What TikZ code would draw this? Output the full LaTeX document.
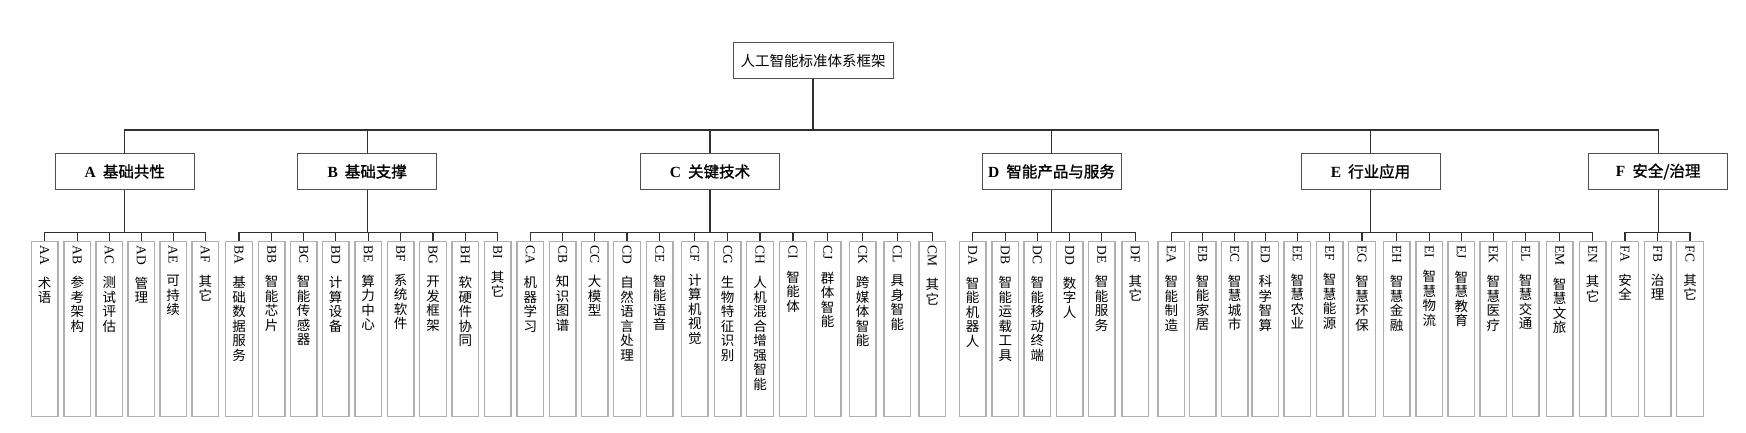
\documentclass[tikz,border=0pt]{standalone}
\usepackage{fontspec}
\usepackage{graphicx}
\usepackage{tikz}
\setmainfont{Noto Sans CJK SC}
\newfontfamily\headfont{Noto Sans CJK SC}[AutoFakeBold=1.2]
\newfontfamily\codefont{Liberation Serif}
\XeTeXlinebreaklocale "zh"
\XeTeXlinebreakskip=0pt plus 1pt
\definecolor{linegray}{HTML}{303030}
\definecolor{boxgray}{HTML}{505050}
\definecolor{leafgray}{HTML}{B0B0B0}

\begin{document}
\begin{tikzpicture}[x=1pt,y=-1pt,
    conn/.style={draw=linegray, line width=1.1pt},
    topbox/.style={draw=boxgray, line width=1pt, minimum width=160pt, minimum height=36pt, inner sep=0pt, font=\fontsize{14.5}{16}\selectfont},
    headbox/.style={draw=boxgray, line width=1pt, minimum width=139pt, minimum height=36pt, inner sep=0pt, font=\headfont\bfseries\fontsize{15.5}{17}\selectfont},
    leafbox/.style={draw=leafgray, line width=1.2pt, anchor=north, minimum width=26.5pt, minimum height=175pt, inner sep=0pt, font=\fontsize{13.5}{14.5}\selectfont,
        execute at begin node={\begin{minipage}[t][167pt][t]{20pt}\centering}, execute at end node={\end{minipage}}}]
    \useasboundingbox (0,0) rectangle (1746,432);
    % root and main groups
    \node[topbox] (root) at (813,60.7) {人工智能标准体系框架};
    \node[headbox] (A) at (124.8,171.5) {{\codefont A}\hspace{7pt}基础共性};
    \node[headbox] (B) at (367.2,171.5) {{\codefont B}\hspace{7pt}基础支撑};
    \node[headbox] (C) at (710,171.5) {{\codefont C}\hspace{7pt}关键技术};
    \node[headbox] (D) at (1051.5,171.5) {{\codefont D}\hspace{7pt}智能产品与服务};
    \node[headbox] (E) at (1370.5,171.5) {{\codefont E}\hspace{7pt}行业应用};
    \node[headbox] (F) at (1658.2,171.5) {{\codefont F}\hspace{7pt}安全/治理};
    % A
    \node[leafbox] (AA) at (44.7,241) {\rotatebox{-90}{\codefont AA}\\[11pt]术语};
    \node[leafbox] (AB) at (77.3,241) {\rotatebox{-90}{\codefont AB}\\[11pt]参考架构};
    \node[leafbox] (AC) at (109.3,241) {\rotatebox{-90}{\codefont AC}\\[11pt]测试评估};
    \node[leafbox] (AD) at (141.3,241) {\rotatebox{-90}{\codefont AD}\\[11pt]管理};
    \node[leafbox] (AE) at (173.2,241) {\rotatebox{-90}{\codefont AE}\\[11pt]可持续};
    \node[leafbox] (AF) at (205.3,241) {\rotatebox{-90}{\codefont AF}\\[11pt]其它};
    % B
    \node[leafbox] (BA) at (239,241) {\rotatebox{-90}{\codefont BA}\\[11pt]基础数据服务};
    \node[leafbox] (BB) at (271.7,241) {\rotatebox{-90}{\codefont BB}\\[11pt]智能芯片};
    \node[leafbox] (BC) at (303.7,241) {\rotatebox{-90}{\codefont BC}\\[11pt]智能传感器};
    \node[leafbox] (BD) at (335.7,241) {\rotatebox{-90}{\codefont BD}\\[11pt]计算设备};
    \node[leafbox] (BE) at (368.2,241) {\rotatebox{-90}{\codefont BE}\\[11pt]算力中心};
    \node[leafbox] (BF) at (400.7,241) {\rotatebox{-90}{\codefont BF}\\[11pt]系统软件};
    \node[leafbox] (BG) at (433,241) {\rotatebox{-90}{\codefont BG}\\[11pt]开发框架};
    \node[leafbox] (BH) at (465.3,241) {\rotatebox{-90}{\codefont BH}\\[11pt]软硬件协同};
    \node[leafbox] (BI) at (497.7,241) {\rotatebox{-90}{\codefont BI}\\[11pt]其它};
    % C
    \node[leafbox] (CA) at (530.3,241) {\rotatebox{-90}{\codefont CA}\\[11pt]机器学习};
    \node[leafbox] (CB) at (562.7,241) {\rotatebox{-90}{\codefont CB}\\[11pt]知识图谱};
    \node[leafbox] (CC) at (594.7,241) {\rotatebox{-90}{\codefont CC}\\[11pt]大模型};
    \node[leafbox] (CD) at (627,241) {\rotatebox{-90}{\codefont CD}\\[11pt]自然语言处理};
    \node[leafbox] (CE) at (659.7,241) {\rotatebox{-90}{\codefont CE}\\[11pt]智能语音};
    \node[leafbox] (CF) at (694.8,241) {\rotatebox{-90}{\codefont CF}\\[11pt]计算机视觉};
    \node[leafbox] (CG) at (727.7,241) {\rotatebox{-90}{\codefont CG}\\[11pt]生物特征识别};
    \node[leafbox] (CH) at (760,241) {\rotatebox{-90}{\codefont CH}\\[11pt]人机混合增强智能};
    \node[leafbox] (CI) at (793,241) {\rotatebox{-90}{\codefont CI}\\[11pt]智能体};
    \node[leafbox] (CJ) at (827.7,241) {\rotatebox{-90}{\codefont CJ}\\[11pt]群体智能};
    \node[leafbox] (CK) at (862.7,241) {\rotatebox{-90}{\codefont CK}\\[11pt]跨媒体智能};
    \node[leafbox] (CL) at (897.3,241) {\rotatebox{-90}{\codefont CL}\\[11pt]具身智能};
    \node[leafbox] (CM) at (932.3,241) {\rotatebox{-90}{\codefont CM}\\[11pt]其它};
    % D
    \node[leafbox] (DA) at (972.7,241) {\rotatebox{-90}{\codefont DA}\\[11pt]智能机器人};
    \node[leafbox] (DB) at (1005.3,241) {\rotatebox{-90}{\codefont DB}\\[11pt]智能运载工具};
    \node[leafbox] (DC) at (1037.3,241) {\rotatebox{-90}{\codefont DC}\\[11pt]智能移动终端};
    \node[leafbox] (DD) at (1069.7,241) {\rotatebox{-90}{\codefont DD}\\[11pt]数字人};
    \node[leafbox] (DE) at (1101.7,241) {\rotatebox{-90}{\codefont DE}\\[11pt]智能服务};
    \node[leafbox] (DF) at (1135.3,241) {\rotatebox{-90}{\codefont DF}\\[11pt]其它};
    % E
    \node[leafbox] (EA) at (1171.3,241) {\rotatebox{-90}{\codefont EA}\\[11pt]智能制造};
    \node[leafbox] (EB) at (1202.7,241) {\rotatebox{-90}{\codefont EB}\\[11pt]智能家居};
    \node[leafbox] (EC) at (1234.7,241) {\rotatebox{-90}{\codefont EC}\\[11pt]智慧城市};
    \node[leafbox] (ED) at (1265.3,241) {\rotatebox{-90}{\codefont ED}\\[11pt]科学智算};
    \node[leafbox] (EE) at (1297.3,241) {\rotatebox{-90}{\codefont EE}\\[11pt]智慧农业};
    \node[leafbox] (EF) at (1329.7,241) {\rotatebox{-90}{\codefont EF}\\[11pt]智慧能源};
    \node[leafbox] (EG) at (1362,241) {\rotatebox{-90}{\codefont EG}\\[11pt]智慧环保};
    \node[leafbox] (EH) at (1396.7,241) {\rotatebox{-90}{\codefont EH}\\[11pt]智慧金融};
    \node[leafbox] (EI) at (1429.3,241) {\rotatebox{-90}{\codefont EI}\\[11pt]智慧物流};
    \node[leafbox] (EJ) at (1461.3,241) {\rotatebox{-90}{\codefont EJ}\\[11pt]智慧教育};
    \node[leafbox] (EK) at (1493.3,241) {\rotatebox{-90}{\codefont EK}\\[11pt]智慧医疗};
    \node[leafbox] (EL) at (1525.7,241) {\rotatebox{-90}{\codefont EL}\\[11pt]智慧交通};
    \node[leafbox] (EM) at (1559.7,241) {\rotatebox{-90}{\codefont EM}\\[11pt]智慧文旅};
    \node[leafbox] (EN) at (1592.7,241) {\rotatebox{-90}{\codefont EN}\\[11pt]其它};
    % F
    \node[leafbox] (FA) at (1625,241) {\rotatebox{-90}{\codefont FA}\\[11pt]安全};
    \node[leafbox] (FB) at (1657.7,241) {\rotatebox{-90}{\codefont FB}\\[11pt]治理};
    \node[leafbox] (FC) at (1690,241) {\rotatebox{-90}{\codefont FC}\\[11pt]其它};
    % bus points
    \coordinate (rootbus) at (813,130);
    \coordinate (Abus) at (124.8,232.5);
    \coordinate (Bbus) at (367.2,232.5);
    \coordinate (Cbus) at (710,232.5);
    \coordinate (Dbus) at (1051.5,232.5);
    \coordinate (Ebus) at (1370.5,232.5);
    \coordinate (Fbus) at (1658.2,232.5);
    % root to groups
    \draw[conn] (root.south) -- (rootbus);
    \draw[conn] (rootbus) -| (A.north);
    \draw[conn] (rootbus) -| (B.north);
    \draw[conn] (rootbus) -| (C.north);
    \draw[conn] (rootbus) -| (D.north);
    \draw[conn] (rootbus) -| (E.north);
    \draw[conn] (rootbus) -| (F.north);
    % groups to leaves
    \draw[conn] (A.south) -- (Abus);
    \draw[conn] (Abus) -| (AA.north);
    \draw[conn] (Abus) -| (AB.north);
    \draw[conn] (Abus) -| (AC.north);
    \draw[conn] (Abus) -| (AD.north);
    \draw[conn] (Abus) -| (AE.north);
    \draw[conn] (Abus) -| (AF.north);
    \draw[conn] (B.south) -- (Bbus);
    \draw[conn] (Bbus) -| (BA.north);
    \draw[conn] (Bbus) -| (BB.north);
    \draw[conn] (Bbus) -| (BC.north);
    \draw[conn] (Bbus) -| (BD.north);
    \draw[conn] (Bbus) -| (BE.north);
    \draw[conn] (Bbus) -| (BF.north);
    \draw[conn] (Bbus) -| (BG.north);
    \draw[conn] (Bbus) -| (BH.north);
    \draw[conn] (Bbus) -| (BI.north);
    \draw[conn] (C.south) -- (Cbus);
    \draw[conn] (Cbus) -| (CA.north);
    \draw[conn] (Cbus) -| (CB.north);
    \draw[conn] (Cbus) -| (CC.north);
    \draw[conn] (Cbus) -| (CD.north);
    \draw[conn] (Cbus) -| (CE.north);
    \draw[conn] (Cbus) -| (CF.north);
    \draw[conn] (Cbus) -| (CG.north);
    \draw[conn] (Cbus) -| (CH.north);
    \draw[conn] (Cbus) -| (CI.north);
    \draw[conn] (Cbus) -| (CJ.north);
    \draw[conn] (Cbus) -| (CK.north);
    \draw[conn] (Cbus) -| (CL.north);
    \draw[conn] (Cbus) -| (CM.north);
    \draw[conn] (D.south) -- (Dbus);
    \draw[conn] (Dbus) -| (DA.north);
    \draw[conn] (Dbus) -| (DB.north);
    \draw[conn] (Dbus) -| (DC.north);
    \draw[conn] (Dbus) -| (DD.north);
    \draw[conn] (Dbus) -| (DE.north);
    \draw[conn] (Dbus) -| (DF.north);
    \draw[conn] (E.south) -- (Ebus);
    \draw[conn] (Ebus) -| (EA.north);
    \draw[conn] (Ebus) -| (EB.north);
    \draw[conn] (Ebus) -| (EC.north);
    \draw[conn] (Ebus) -| (ED.north);
    \draw[conn] (Ebus) -| (EE.north);
    \draw[conn] (Ebus) -| (EF.north);
    \draw[conn] (Ebus) -| (EG.north);
    \draw[conn] (Ebus) -| (EH.north);
    \draw[conn] (Ebus) -| (EI.north);
    \draw[conn] (Ebus) -| (EJ.north);
    \draw[conn] (Ebus) -| (EK.north);
    \draw[conn] (Ebus) -| (EL.north);
    \draw[conn] (Ebus) -| (EM.north);
    \draw[conn] (Ebus) -| (EN.north);
    \draw[conn] (F.south) -- (Fbus);
    \draw[conn] (Fbus) -| (FA.north);
    \draw[conn] (Fbus) -| (FB.north);
    \draw[conn] (Fbus) -| (FC.north);
\end{tikzpicture}
\end{document}
